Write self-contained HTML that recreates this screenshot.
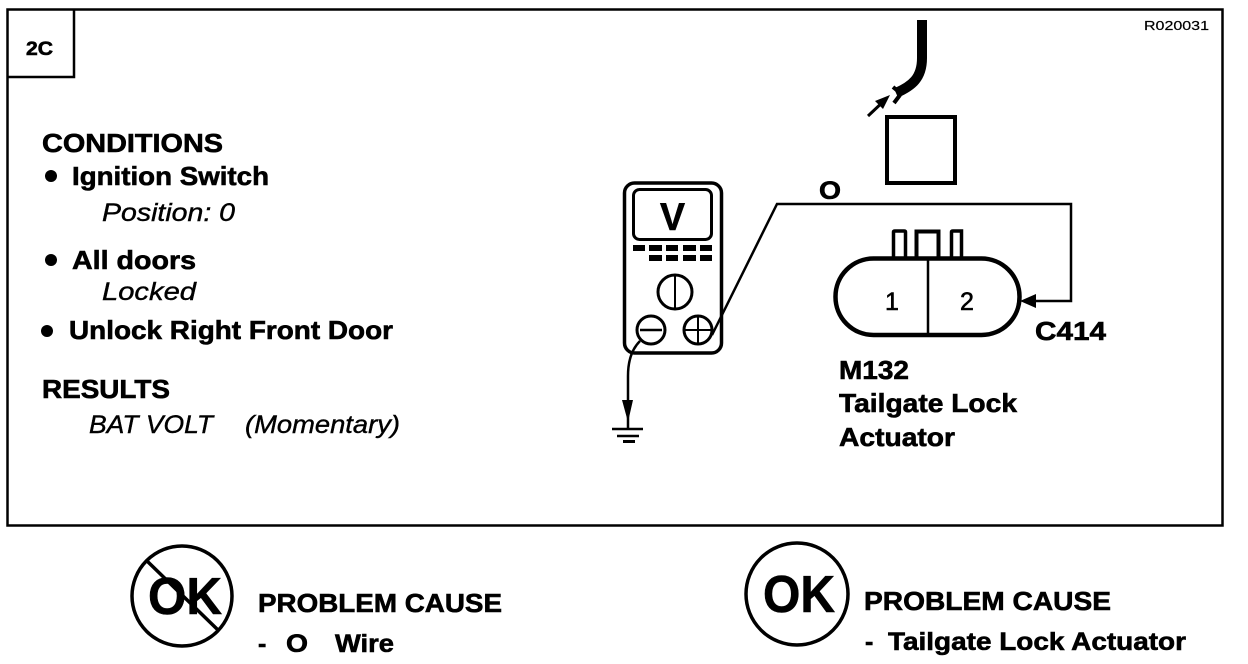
<!DOCTYPE html>
<html><head><meta charset="utf-8">
<style>
html,body{margin:0;padding:0;background:#fff;width:1248px;height:664px;overflow:hidden}
svg{display:block}
text{font-family:"Liberation Sans",sans-serif;font-weight:bold;fill:#000;stroke:#000;stroke-width:.6px}
.i{font-style:italic;font-weight:normal;stroke-width:.4px}
</style></head><body>
<svg width="1248" height="664" viewBox="0 0 1248 664" xmlns="http://www.w3.org/2000/svg">
<g fill="none" stroke="#000">
<rect x="7.5" y="9.5" width="1215" height="516" stroke-width="2.5"/>
<path d="M8 77H74V10" stroke-width="2.5"/>
<!-- wire top -->
<path d="M922 20V58C922 78 912 86 896 93" stroke-width="10"/>
<path d="M893 87L899 92M894 103L900 95" stroke-width="4"/>
<path d="M868 116L886 99" stroke-width="3"/>
<!-- box -->
<rect x="887" y="117" width="68" height="66" stroke-width="4"/>
<!-- O wire -->
<path d="M712 335L777 204H1071V301H1030" stroke-width="2.5"/>
<!-- connector -->
<rect x="835.5" y="258.5" width="184" height="76.5" rx="38" ry="38" stroke-width="4.5"/>
<path d="M928 258V335" stroke-width="2.5"/>
<path d="M893.500 257V232Q893.500 231 895 231H904Q905.500 231 905.500 232V257" stroke-width="3.500"/>
<path d="M916.500 257V231.500H938.500V257" stroke-width="4"/>
<path d="M951.500 257V232Q951.500 231 953 231H961.500V257" stroke-width="3.500"/>
<!-- meter -->
<rect x="624.500" y="183" width="97" height="170" rx="10" stroke-width="3.500"/>
<rect x="633.500" y="189.500" width="78" height="50" rx="6" stroke-width="3"/>
<circle cx="675" cy="292" r="17" stroke-width="3"/>
<path d="M675 276V308" stroke-width="2"/>
<circle cx="651" cy="330" r="14" stroke-width="3"/>
<path d="M640 330H662" stroke-width="2.500"/>
<circle cx="698" cy="330" r="14" stroke-width="3"/>
<path d="M698 317V343M685 330H711" stroke-width="2"/>
<!-- ground -->
<path d="M640 341C631 350 628 362 628 376V429" stroke-width="2.500"/>
<path d="M612 429H643" stroke-width="2.500"/>
<path d="M617 436H639" stroke-width="2.500"/>
<path d="M623 441.500H635" stroke-width="3"/>
<!-- OK circles -->
<circle cx="182" cy="596" r="50" stroke-width="3.500"/>
<path d="M146 560L218 630" stroke-width="3.500"/>
<circle cx="797" cy="594" r="51" stroke-width="3.500"/>
</g>
<g fill="#000">
<path d="M633 245h12v6h-12zM649 245h13v6h-13zM666 245h12v6h-12zM683 245h13v6h-13zM700 245h12v6h-12z"/>
<path d="M649 255h13v6h-13zM666 255h12v6h-12zM683 255h13v6h-13zM700 255h12v6h-12z"/>
<path d="M622 400h11l-5 22z"/>
<path d="M1020 301l16-7v14z"/>
<path d="M890 95l-15 6 8 8z"/>
<circle cx="51" cy="176" r="6"/>
<circle cx="51" cy="260" r="6"/>
<circle cx="47" cy="331" r="6"/>
</g>
<text x="1144" y="30" font-size="13" style="font-weight:normal;stroke-width:.2px" textLength="65" lengthAdjust="spacingAndGlyphs">R020031</text>
<text x="26" y="55" font-size="19" textLength="27" lengthAdjust="spacingAndGlyphs">2C</text>
<text x="42" y="152" font-size="26" textLength="181" lengthAdjust="spacingAndGlyphs">CONDITIONS</text>
<text x="72" y="185" font-size="26" textLength="197" lengthAdjust="spacingAndGlyphs">Ignition Switch</text>
<text x="102" y="221" font-size="25" class="i" textLength="133" lengthAdjust="spacingAndGlyphs">Position: 0</text>
<text x="72" y="269" font-size="26" textLength="124" lengthAdjust="spacingAndGlyphs">All doors</text>
<text x="102" y="300" font-size="25" class="i" textLength="94" lengthAdjust="spacingAndGlyphs">Locked</text>
<text x="69" y="339" font-size="26" textLength="324" lengthAdjust="spacingAndGlyphs">Unlock Right Front Door</text>
<text x="42" y="398" font-size="26" textLength="128" lengthAdjust="spacingAndGlyphs">RESULTS</text>
<text x="89" y="433" font-size="25" class="i" textLength="124" lengthAdjust="spacingAndGlyphs">BAT VOLT</text>
<text x="245" y="433" font-size="25" class="i" textLength="155" lengthAdjust="spacingAndGlyphs">(Momentary)</text>
<text x="660" y="230" font-size="39" textLength="25" lengthAdjust="spacingAndGlyphs">V</text>
<text x="819" y="199" font-size="25" textLength="22" lengthAdjust="spacingAndGlyphs">O</text>
<text x="885" y="310" font-size="25" style="font-weight:normal">1</text>
<text x="960" y="310" font-size="25" style="font-weight:normal">2</text>
<text x="1035" y="340" font-size="26" textLength="71" lengthAdjust="spacingAndGlyphs">C414</text>
<text x="839" y="379" font-size="26" textLength="70" lengthAdjust="spacingAndGlyphs">M132</text>
<text x="839" y="412" font-size="26" textLength="178" lengthAdjust="spacingAndGlyphs">Tailgate Lock</text>
<text x="839" y="446" font-size="26" textLength="116" lengthAdjust="spacingAndGlyphs">Actuator</text>
<text x="148" y="614" font-size="52" textLength="74" lengthAdjust="spacingAndGlyphs">OK</text>
<text x="763" y="612" font-size="52" textLength="72" lengthAdjust="spacingAndGlyphs">OK</text>
<text x="258" y="612" font-size="26" textLength="244" lengthAdjust="spacingAndGlyphs">PROBLEM CAUSE</text>
<text x="258" y="652" font-size="25">-</text>
<text x="286" y="652" font-size="25" textLength="22" lengthAdjust="spacingAndGlyphs">O</text>
<text x="335" y="652" font-size="25" textLength="59" lengthAdjust="spacingAndGlyphs">Wire</text>
<text x="864" y="610" font-size="26" textLength="247" lengthAdjust="spacingAndGlyphs">PROBLEM CAUSE</text>
<text x="865" y="650" font-size="25">-</text>
<text x="888" y="650" font-size="25" textLength="298" lengthAdjust="spacingAndGlyphs">Tailgate Lock Actuator</text>
</svg>
</body></html>
